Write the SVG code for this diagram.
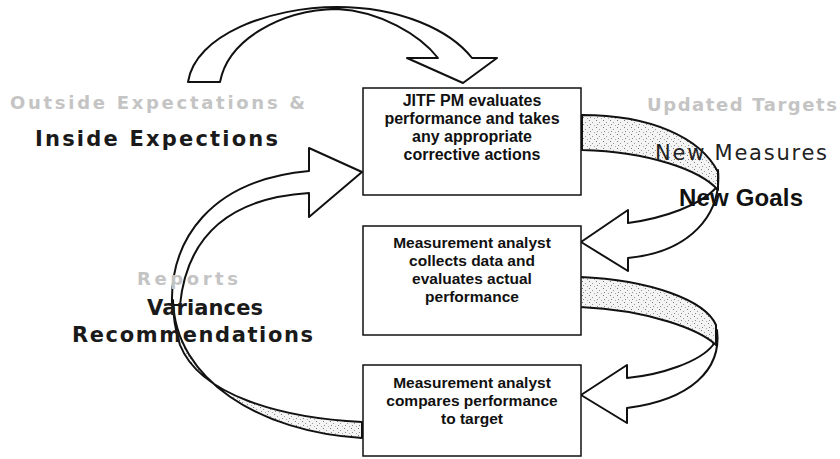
<svg xmlns="http://www.w3.org/2000/svg" width="840" height="459" viewBox="0 0 840 459">
<defs>
<pattern id="stip" width="7" height="7" patternUnits="userSpaceOnUse">
<rect width="7" height="7" fill="#f4f4f4"/>
<rect x="1" y="1" width="1" height="1" fill="#777"/>
<rect x="4" y="3" width="1" height="1" fill="#999"/>
<rect x="2" y="5" width="1" height="1" fill="#888"/>
<rect x="6" y="6" width="1" height="1" fill="#aaa"/>
</pattern>
<style>
.box{fill:#fff;stroke:#111;stroke-width:1.5}
.bt{font-family:"Liberation Sans",Arial,sans-serif;font-weight:bold;font-size:15.5px;fill:#111;text-anchor:middle}
.b1{font-size:16px}
.arr{fill:#fff;stroke:#111;stroke-width:2;stroke-linejoin:round}
.st{fill:url(#stip);stroke:#111;stroke-width:2;stroke-linejoin:round}
.big{font-family:"DejaVu Sans",Verdana,sans-serif;font-weight:bold;font-size:21px;fill:#1a1a1a}
.fade{font-family:"DejaVu Sans",Verdana,sans-serif;font-weight:bold;font-size:18px;fill:#c4c4c4}
</style>
</defs>
<rect width="840" height="459" fill="#fff"/>
<g id="connectors">
<path class="arr" d="M188,82 C195,35 270,7 337,7 C400,7 450,30 472,58 L497,58 L463,83 L407,58 L438,58 C420,35 380,11 337,9 C280,10 228,40 220,82 Z"/>
<path class="arr" d="M716,188 C700,205 665,218 628,223 L628,210 L581,242 L628,271 L628,258 C690,252 722,215 718,170 Z"/>
<path class="st" d="M582,115 C650,115 700,137 718,172 L718,190 C700,170 650,152 582,150 Z"/>
<path class="arr" d="M713,345 C700,362 660,375 627,378 L627,365 L581,395 L627,423 L627,408 C690,400 722,370 717,330 Z"/>
<path class="st" d="M580,277 C650,280 705,300 716,325 L716,345 C700,330 650,310 580,307 Z"/>
<path class="arr" d="M172,305 C170,240 210,180 309,171 L309,148 L362,172 L309,217 L309,193 C230,198 187,235 180,305 Z"/>
<path class="st" d="M362,422 C280,418 200,395 180,345 C175,330 173,315 173,300 C175,380 260,432 362,438 Z"/>
</g>
<g id="box1">
<rect class="box" x="363" y="88" width="218" height="107"/>
<text class="bt b1" x="472" y="106">JITF PM evaluates</text>
<text class="bt b1" x="472" y="124">performance and takes</text>
<text class="bt b1" x="472" y="142">any appropriate</text>
<text class="bt b1" x="472" y="160">corrective actions</text>
</g>
<g id="box2">
<rect class="box" x="363" y="226" width="218" height="109"/>
<text class="bt" x="472" y="248">Measurement analyst</text>
<text class="bt" x="472" y="266">collects data and</text>
<text class="bt" x="472" y="284">evaluates actual</text>
<text class="bt" x="472" y="302">performance</text>
</g>
<g id="box3">
<rect class="box" x="363" y="365" width="218" height="91"/>
<text class="bt" x="472" y="388">Measurement analyst</text>
<text class="bt" x="472" y="406">compares performance</text>
<text class="bt" x="472" y="424">to target</text>
</g>
<g id="labels">
<text class="fade" x="10" y="109" textLength="295" lengthAdjust="spacing">Outside Expectations &amp;</text>
<text class="big" x="35" y="146" textLength="243" lengthAdjust="spacing">Inside Expections</text>
<text class="fade" x="647" y="111" textLength="190" lengthAdjust="spacing">Updated Targets</text>
<text x="655" y="160" textLength="172" lengthAdjust="spacing" style="font-family:'DejaVu Sans',sans-serif;font-size:21px;fill:#222">New Measures</text>
<text x="679" y="206" textLength="124" lengthAdjust="spacing" style="font-family:'Liberation Sans',Arial,sans-serif;font-weight:bold;font-size:24px;fill:#111">New Goals</text>
<text class="fade" x="137" y="285" textLength="101" lengthAdjust="spacing">Reports</text>
<text class="big" x="147" y="315" textLength="116" lengthAdjust="spacing">Variances</text>
<text class="big" x="72" y="342" textLength="241" lengthAdjust="spacing">Recommendations</text>
</g>
</svg>
